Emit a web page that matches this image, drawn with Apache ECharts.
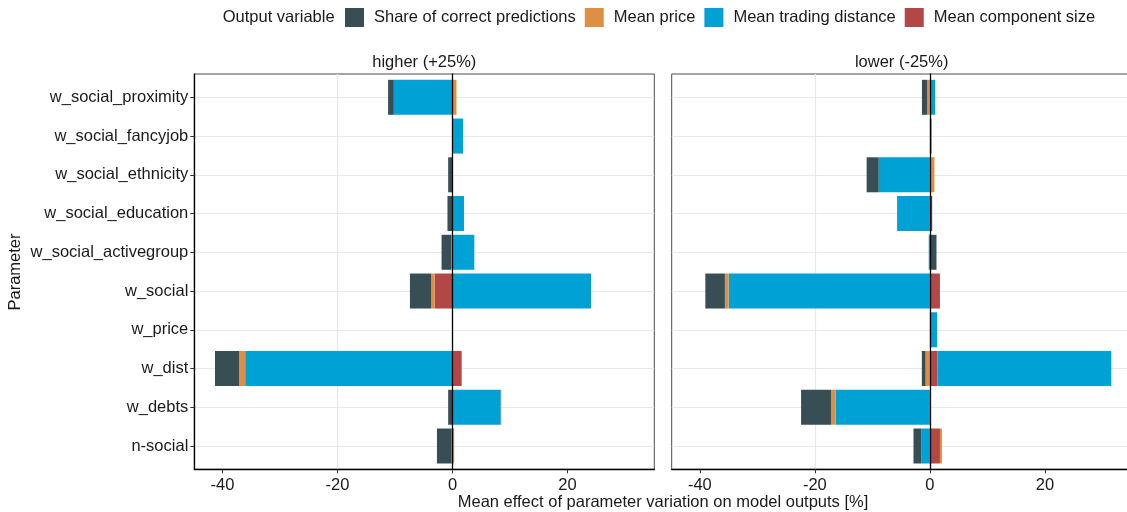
<!DOCTYPE html>
<html>
<head>
<meta charset="utf-8">
<script src="https://cdn.jsdelivr.net/npm/echarts@6/dist/echarts.min.js"></script>
<style>
  html, body { margin: 0; padding: 0; background: #fff; }
  #chart { width: 1127px; height: 512px; }
</style>
</head>
<body>
<div id="chart"></div>
<script>
// Parameters, listed top to bottom
const categories = ['w_social_proximity', 'w_social_fancyjob', 'w_social_ethnicity', 'w_social_education',
  'w_social_activegroup', 'w_social', 'w_price', 'w_dist', 'w_debts', 'n-social'];

// Panel "higher (+25%)": mean effect [%] per output variable
const higherShare     = [-1.0, 0, -0.75, -0.87, -1.65, -3.7, 0, -4.2, -0.75, -2.5];
const higherPrice     = [0.7, 0, 0, 0, -0.25, -0.6, 0, -1.05, 0.1, 0.3];
const higherDistance  = [-10.2, 1.85, 0, 2.0, 3.8, 24.1, 0.1, -36.05, 8.4, -0.2];
const higherComponent = [0, 0, 0, 0, 0, -3.1, 0, 1.6, 0, 0];

// Panel "lower (-25%)"
const lowerShare     = [-0.93, 0, -2.1, 0.3, 1.15, -3.4, 0, -0.65, -5.2, -1.35];
const lowerPrice     = [-0.45, 0, 0.8, 0.1, 0, -0.65, 0, -0.75, -0.8, 0.35];
const lowerDistance  = [0.93, 0.3, -8.9, -5.7, -0.2, -35.0, 1.27, 30.25, -16.4, -1.5];
const lowerComponent = [0, 0, 0, 0, 0, 1.75, 0, 1.3, 0, 1.75];

const panelTitles = ['higher (+25%)', 'lower (-25%)'];
const xTicks = [-40, -20, 0, 20];
const xMin = -44.9, xMax = 35.1;

const names = {
  share: 'Share of correct predictions',
  price: 'Mean price',
  distance: 'Mean trading distance',
  component: 'Mean component size'
};
const colors = {
  share: '#374E55',
  price: '#DF8F44',
  distance: '#00A1D5',
  component: '#B24745'
};

const FONT = "'Liberation Sans', Arial, sans-serif";
const TEXT = '#1a1a1a';
const GRID_LINE = '#e8e8e8';

const panelLeft = [194.3, 671.7];
const panelWidth = 460;
const panelTop = 74, panelHeight = 395.3;
const innerTop = 97.3, innerHeight = 348.7;

const grid = [];
const xAxis = [];
const yAxis = [];
panelLeft.forEach((left, p) => {
  // outer frame grid: x scale, vertical grid lines, frame
  grid.push({ left: left, top: panelTop, width: panelWidth, height: panelHeight,
    outerBoundsMode: 'none', containLabel: false,
    show: true, borderColor: '#4a4a4a', borderWidth: 1, backgroundColor: 'transparent' });
  // inner grid: category positions for the bars
  grid.push({ left: left, top: innerTop, width: panelWidth, height: innerHeight,
    outerBoundsMode: 'none', containLabel: false });

  xAxis.push({
    type: 'value', gridIndex: 2 * p, min: xMin, max: xMax,
    axisLine: { show: true, onZero: false, lineStyle: { color: '#000', width: 1.3 } },
    axisTick: { show: true, length: 4, customValues: xTicks, lineStyle: { color: '#333' } },
    axisLabel: { customValues: xTicks, margin: 8, color: TEXT, fontSize: 16.5, fontFamily: FONT },
    splitLine: { show: true, showMinLine: false, showMaxLine: false, lineStyle: { color: GRID_LINE, width: 1.2 } }
  });
  xAxis.push({ type: 'value', gridIndex: 2 * p + 1, min: xMin, max: xMax, show: false });
});

panelLeft.forEach((left, p) => {
  // frame edge on the left of the panel
  yAxis.push({
    type: 'value', gridIndex: 2 * p, min: 0, max: 1, position: 'left',
    axisLine: { show: p === 0, onZero: false, lineStyle: { color: '#000', width: 1.3 } },
    axisTick: { show: false }, axisLabel: { show: false }, splitLine: { show: false }
  });
  // vertical reference line at zero, drawn over the bars
  yAxis.push({
    type: 'value', gridIndex: 2 * p, min: 0, max: 1, position: 'right', z: 10,
    axisLine: { show: true, onZero: true, lineStyle: { color: '#000', width: 1.3 } },
    axisTick: { show: false }, axisLabel: { show: false }, splitLine: { show: false }
  });
  // parameter categories, kept on the left edge of the panel
  yAxis.push({
    type: 'category', gridIndex: 2 * p + 1, data: categories, inverse: true, boundaryGap: false,
    position: 'left',
    axisLine: { show: false, onZero: false },
    axisTick: { show: p === 0, length: 4, lineStyle: { color: '#333' } },
    axisLabel: { show: p === 0, margin: 6, color: TEXT, fontSize: 16.5, fontFamily: FONT },
    splitLine: { show: true, lineStyle: { color: GRID_LINE, width: 1.2 } }
  });
});

// stacking order: the first series sits next to zero
const panelData = [
  { component: higherComponent, distance: higherDistance, price: higherPrice, share: higherShare },
  { component: lowerComponent, distance: lowerDistance, price: lowerPrice, share: lowerShare }
];
const order = ['component', 'distance', 'price', 'share'];

const series = [];
panelData.forEach((d, p) => {
  order.forEach(key => {
    series.push({
      type: 'bar', name: names[key], xAxisIndex: 2 * p + 1, yAxisIndex: 3 * p + 2,
      stack: 'panel' + p,
      // zero effects are left out so no empty sliver is drawn
      data: d[key].map(v => (v === 0 ? '-' : v)),
      barWidth: 35, clip: false,
      itemStyle: { color: colors[key] }, silent: true, z: 2
    });
  });
});

const graphic = [
  { type: 'text', x: 222.7, y: 17, style: { text: 'Output variable', fill: TEXT, fontSize: 16.5, fontFamily: FONT, align: 'left', verticalAlign: 'middle' } },
  { type: 'text', x: panelLeft[0] + panelWidth / 2, y: 62, style: { text: panelTitles[0], fill: TEXT, fontSize: 16.5, fontFamily: FONT, align: 'center', verticalAlign: 'middle' } },
  { type: 'text', x: panelLeft[1] + panelWidth / 2, y: 62, style: { text: panelTitles[1], fill: TEXT, fontSize: 16.5, fontFamily: FONT, align: 'center', verticalAlign: 'middle' } },
  { type: 'text', x: 15, y: 272, rotation: Math.PI / 2, style: { text: 'Parameter', fill: TEXT, fontSize: 16.5, fontFamily: FONT, align: 'center', verticalAlign: 'middle' } },
  { type: 'text', x: 663, y: 502, style: { text: 'Mean effect of parameter variation on model outputs [%]', fill: TEXT, fontSize: 16.5, fontFamily: FONT, align: 'center', verticalAlign: 'middle' } }
];

const chart = echarts.init(document.getElementById('chart'), null, { renderer: 'canvas' });
chart.setOption({
  animation: false,
  backgroundColor: '#fff',
  legend: {
    data: [names.share, names.price, names.distance, names.component],
    left: 345, top: 8, padding: 0, itemWidth: 19, itemHeight: 19, itemGap: 9,
    icon: 'rect', selectedMode: false,
    textStyle: { color: TEXT, fontSize: 16.5, fontFamily: FONT, padding: [0, 0, 0, 5] }
  },
  grid: grid,
  xAxis: xAxis,
  yAxis: yAxis,
  series: series,
  graphic: graphic
});
</script>
</body>
</html>
